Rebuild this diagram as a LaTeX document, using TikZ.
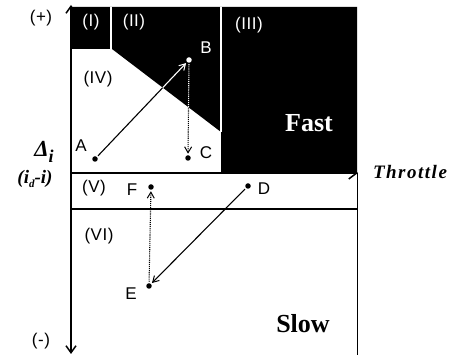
\documentclass[tikz,border=0pt]{standalone}
\usepackage{fontspec}
\setmainfont{Liberation Serif}
\setsansfont{Liberation Sans}
\newfontfamily\lblfont[LetterSpace=3]{Liberation Sans}
\newfontfamily\thrfont[LetterSpace=8]{Liberation Serif}
\usetikzlibrary{arrows.meta}
\begin{document}
\begin{tikzpicture}[x=1pt,y=-1pt,
  pt/.style={circle,fill=black,inner sep=0pt,minimum size=5.5pt,outer sep=1.5pt},
  lbl/.style={inner sep=0pt,font=\lblfont\fontsize{17}{17}\selectfont},
  wlbl/.style={lbl,text=white},
  tipa/.style={-{Straight Barb[length=6pt,width=7pt,line width=1pt]}},
  arr/.style={tipa,line width=1.1pt},
  darr/.style={tipa,line width=1.1pt,densely dotted},
  big/.style={inner sep=0pt,font=\fontsize{26}{26}\selectfont\bfseries}]
\useasboundingbox (0,0) rectangle (472,355);
% black regions
\fill[black] (71,7) -- (357,7) -- (357,173) -- (221,173) -- (221,132) -- (112,49) -- (71,49) -- cycle;
% axes
\coordinate (ytop) at (71,5);
\coordinate (ybot) at (71,354);
\coordinate (xl) at (71,173);
\coordinate (xr) at (358,173);
\draw[line width=2pt,{Straight Barb[length=7pt,width=10pt,line width=1.5pt]}-{Straight Barb[length=7pt,width=10pt,line width=1.5pt]}] (ybot) -- (ytop);
\draw[line width=1.6pt,-{Straight Barb[length=8pt,width=12pt,line width=1.5pt]}] (xl) -- (xr);
\coordinate (bl) at (71,209);
\coordinate (br) at (357,209);
\draw[line width=1.4pt] (bl) -- (br);
\coordinate (rt) at (357,173);
\coordinate (rb) at (357,355);
\draw[line width=0.8pt] (rt) -- (rb);
% points
\node[pt] (A) at (95,159) {};
\node[pt,fill=white] (B) at (189,60) {};
\node[pt] (C) at (188,158) {};
\node[pt] (D) at (248,186) {};
\node[pt] (E) at (149,286) {};
\node[pt] (F) at (151,187) {};
% transitions
\draw[arr] (A) -- (B);
\draw[darr] (B) -- (C);
\draw[arr] (D) -- (E);
\draw[darr] (E) -- (F);
% white parts of transitions inside the black area
\begin{scope}
  \clip (112,49) -- (221,132) -- (221,7) -- (112,7) -- cycle;
  \draw[arr,white] (A) -- (B);
  \draw[darr,white] (B) -- (C);
\end{scope}
\draw[white,line width=2pt] (111,7) -- (111,49);
\draw[white,line width=2pt] (221,7) -- (221,132);
% region labels
\node[wlbl] (r1) at (91,22) {(I)};
\node[wlbl] (r2) at (134,22) {(II)};
\node[wlbl] (r3) at (249,25) {(III)};
\node[lbl] (r4) at (98,79) {(IV)};
\node[lbl] (r5) at (94,188) {(V)};
\node[lbl] (r6) at (99,236) {(VI)};
\node[lbl] (lA) at (81,146) {A};
\node[wlbl] (lB) at (206,48) {B};
\node[lbl] (lC) at (206,153) {C};
\node[lbl] (lD) at (264,189) {D};
\node[lbl] (lE) at (131,294) {E};
\node[lbl] (lF) at (132,190) {F};
% texts
\node[big,text=white] (fast) at (309,123) {Fast};
\node[big] (slow) at (303,324) {Slow};
\node[inner sep=0pt,font=\thrfont\fontsize{19}{19}\selectfont\bfseries\itshape] (thr) at (410,172) {Throttle};
\node[inner sep=0pt,font=\lblfont\fontsize{17}{17}\selectfont] (plus) at (41,18) {(+)};
\node[inner sep=0pt,font=\lblfont\fontsize{17}{17}\selectfont] (minus) at (41,341) {(-)};
\node[inner sep=0pt,font=\fontsize{23}{23}\selectfont\bfseries\itshape] (delta) at (44,152) {Δ\raisebox{-0.25em}{\fontsize{18}{18}\selectfont i}};
\node[inner sep=0pt,font=\fontsize{19}{19}\selectfont\bfseries\itshape] (idi) at (35,179) {(i\raisebox{-0.2em}{\fontsize{11}{11}\selectfont d}-i)};
\end{tikzpicture}
\end{document}
